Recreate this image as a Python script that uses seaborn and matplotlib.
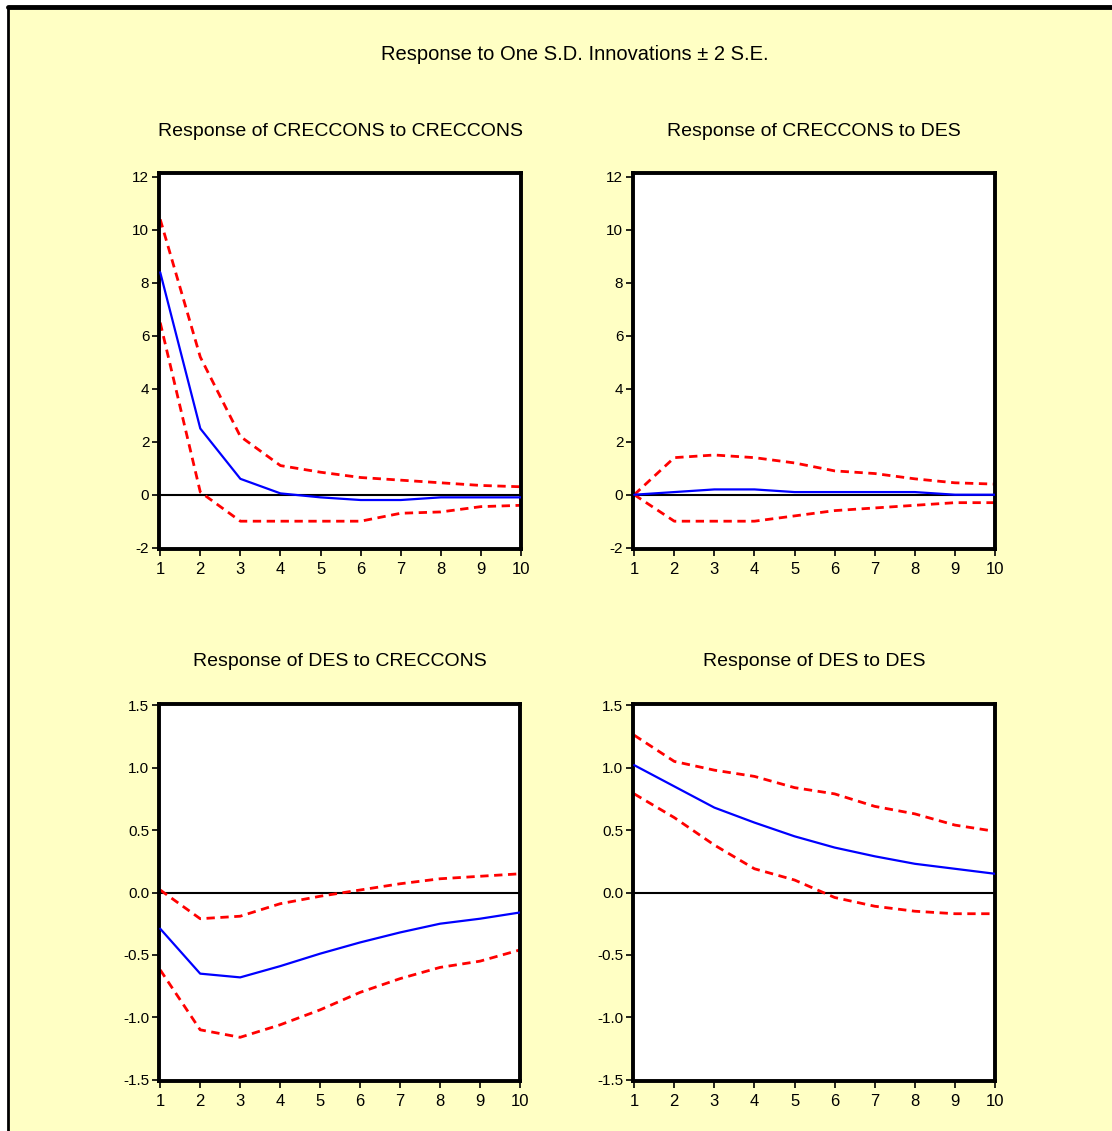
import numpy as np
import pandas as pd
import matplotlib
matplotlib.use("Agg")
import matplotlib.pyplot as plt
import seaborn as sns
from matplotlib.patches import Rectangle
from matplotlib.lines import Line2D

# periods
periods = [1, 2, 3, 4, 5, 6, 7, 8, 9, 10]

# Response of CRECCONS to CRECCONS
cc_resp = [8.4, 2.5, 0.6, 0.05, -0.1, -0.2, -0.2, -0.1, -0.1, -0.1]
cc_upper = [10.4, 5.2, 2.2, 1.1, 0.85, 0.65, 0.55, 0.45, 0.35, 0.3]
cc_lower = [6.5, 0.1, -1.0, -1.0, -1.0, -1.0, -0.7, -0.65, -0.45, -0.4]

# Response of CRECCONS to DES
cd_resp = [0.0, 0.1, 0.2, 0.2, 0.1, 0.1, 0.1, 0.1, 0.0, 0.0]
cd_upper = [0.0, 1.4, 1.5, 1.4, 1.2, 0.9, 0.8, 0.6, 0.45, 0.4]
cd_lower = [0.0, -1.0, -1.0, -1.0, -0.8, -0.6, -0.5, -0.4, -0.3, -0.3]

# Response of DES to CRECCONS
dc_resp = [-0.29, -0.65, -0.68, -0.59, -0.49, -0.40, -0.32, -0.25, -0.21, -0.16]
dc_upper = [0.02, -0.21, -0.19, -0.09, -0.03, 0.02, 0.07, 0.11, 0.13, 0.15]
dc_lower = [-0.62, -1.10, -1.16, -1.06, -0.94, -0.80, -0.69, -0.60, -0.55, -0.46]

# Response of DES to DES
dd_resp = [1.02, 0.85, 0.68, 0.56, 0.45, 0.36, 0.29, 0.23, 0.19, 0.15]
dd_upper = [1.26, 1.05, 0.98, 0.93, 0.84, 0.79, 0.69, 0.63, 0.54, 0.49]
dd_lower = [0.79, 0.60, 0.38, 0.19, 0.10, -0.04, -0.11, -0.15, -0.17, -0.17]

top_ticks = [-2, 0, 2, 4, 6, 8, 10, 12]
bot_ticks = [-1.5, -1.0, -0.5, 0.0, 0.5, 1.0, 1.5]
bot_labels = ["-1.5", "-1.0", "-0.5", "0.0", "0.5", "1.0", "1.5"]

panels = [
    ("Response of CRECCONS to CRECCONS", cc_resp, cc_upper, cc_lower, "top"),
    ("Response of CRECCONS to DES", cd_resp, cd_upper, cd_lower, "top"),
    ("Response of DES to CRECCONS", dc_resp, dc_upper, dc_lower, "bot"),
    ("Response of DES to DES", dd_resp, dd_upper, dd_lower, "bot"),
]

sns.set_style("ticks")
plt.rcParams['font.family'] = ['Liberation Sans Narrow', 'Liberation Sans', 'DejaVu Sans']
plt.rcParams['text.color'] = 'black'

W, H = 1112, 1131
fig = plt.figure(figsize=(W / 100, H / 100), dpi=100, facecolor="white")

bg = "#FFFFC4"
fig.patches.append(Rectangle((9 / W, 0), 1 - 9 / W, 1 - 10 / H, transform=fig.transFigure,
                             facecolor=bg, edgecolor="none", zorder=-5))
fig.lines.append(Line2D([8 / W, 1], [1 - 7 / H, 1 - 7 / H], transform=fig.transFigure,
                        color="black", lw=3.5, zorder=-4))
fig.lines.append(Line2D([8 / W, 8 / W], [0, 1 - 7 / H], transform=fig.transFigure,
                        color="black", lw=2, zorder=-4))

# axes boxes in pixels: left, top, right, bottom
boxes = [(159, 173, 521, 549), (633, 173, 995, 549),
         (159, 704, 520, 1081), (633, 704, 995, 1081)]

fig.text(575 / W, 1 - 55 / H, "Response to One S.D. Innovations \u00b1 2 S.E.",
         ha="center", va="center", fontsize=14.5, color="black")

for (title, resp, up, lo, kind), (l, t, r, b) in zip(panels, boxes):
    ax = fig.add_axes([l / W, 1 - b / H, (r - l) / W, (b - t) / H])
    ax.set_facecolor("white")
    df = pd.DataFrame({"period": periods, "resp": resp, "upper": up, "lower": lo})
    ax.axhline(0, color="black", lw=1.5, zorder=1)
    sns.lineplot(data=df, x="period", y="upper", ax=ax, color="#FF0000", lw=2,
                 linestyle=(0, (3, 2)), zorder=2)
    sns.lineplot(data=df, x="period", y="lower", ax=ax, color="#FF0000", lw=2,
                 linestyle=(0, (3, 2)), zorder=2)
    sns.lineplot(data=df, x="period", y="resp", ax=ax, color="#0000FF", lw=1.6, zorder=3)
    ax.set_xlim(0.97, 10.0)
    ax.set_xticks(periods)
    ax.set_xticklabels([str(p) for p in periods])
    if kind == "top":
        ax.set_ylim(-2.05, 12.15)
        ax.set_yticks(top_ticks)
        ax.set_yticklabels([str(v) for v in top_ticks])
    else:
        ax.set_ylim(-1.51, 1.51)
        ax.set_yticks(bot_ticks)
        ax.set_yticklabels(bot_labels)
    ax.set_xlabel("")
    ax.set_ylabel("")
    for s in ax.spines.values():
        s.set_linewidth(2.8)
        s.set_color("black")
    ax.tick_params(direction="out", length=5, width=1.2, labelsize=11, pad=2, colors="black")
    ax.tick_params(axis="x", labelsize=12, pad=4)
    ax.set_title(title, fontsize=14, pad=27, color="black")

fig.savefig("out.png", dpi=100, facecolor=fig.get_facecolor())
